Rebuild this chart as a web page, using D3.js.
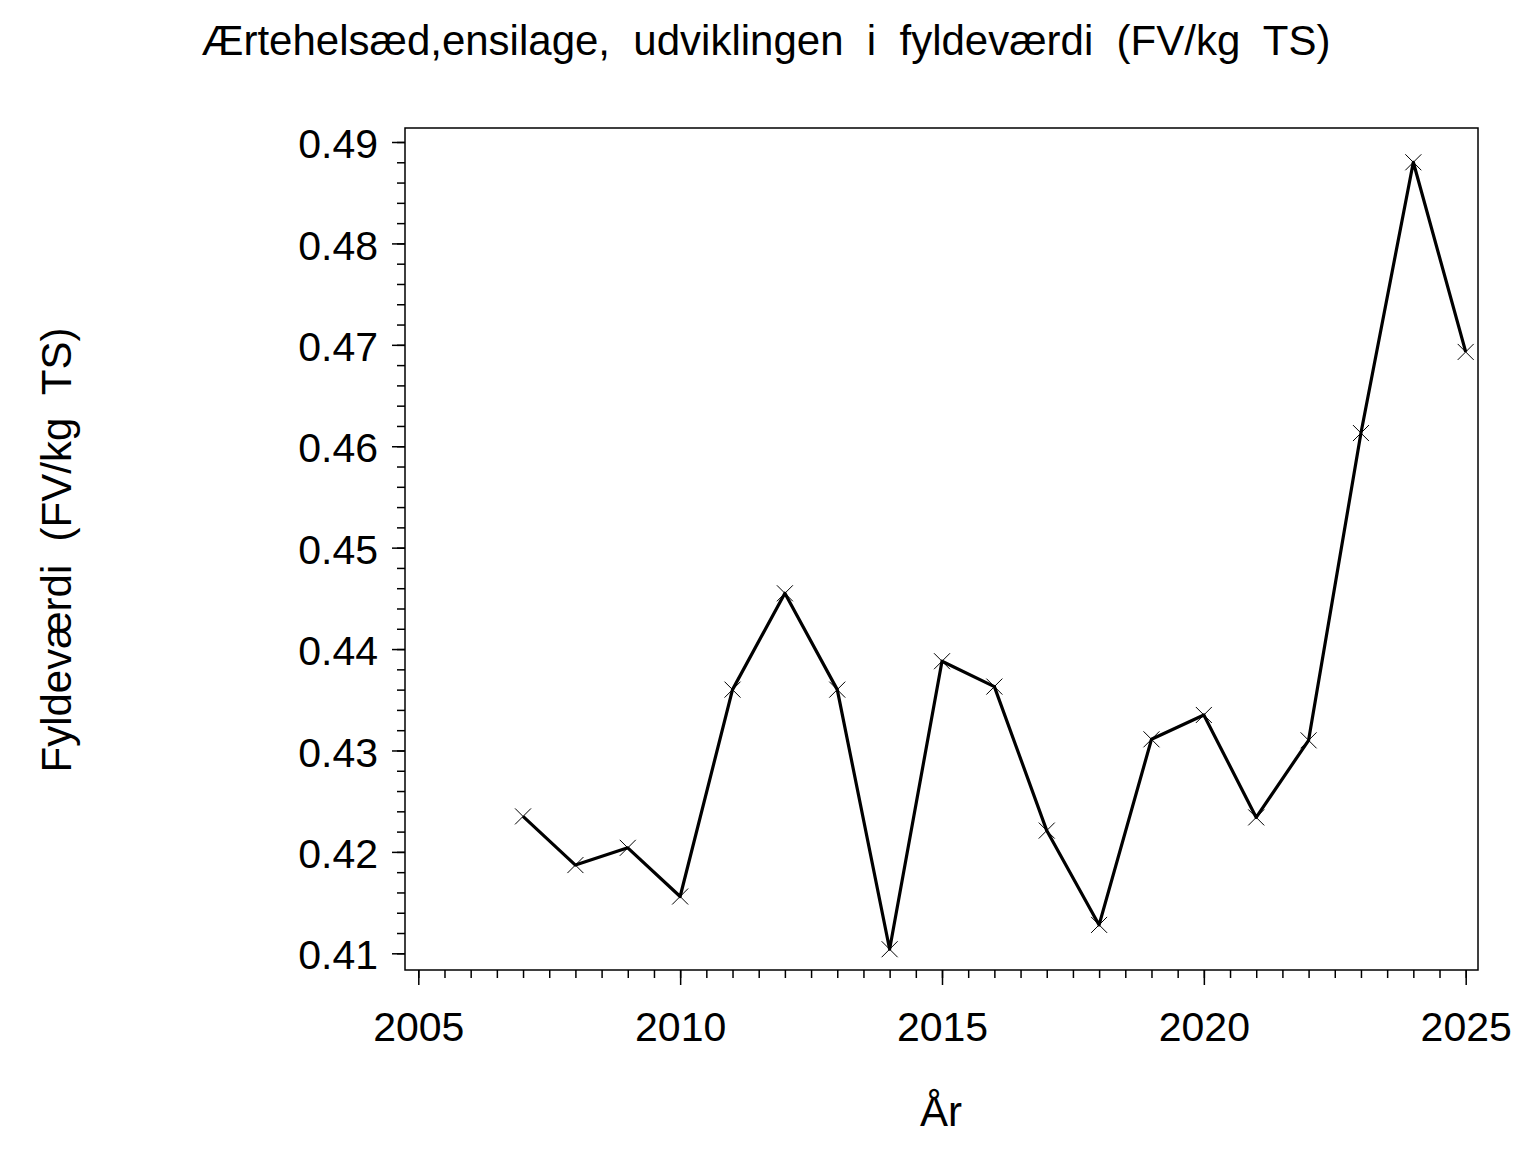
<!DOCTYPE html>
<html>
<head>
<meta charset="utf-8">
<script src="https://cdn.jsdelivr.net/npm/d3@7"></script>
<style>
  html, body { margin: 0; padding: 0; background: #fff; }
  svg { display: block; }
  text { font-family: "Liberation Sans", Arial, sans-serif; fill: #000; }
</style>
</head>
<body>
<script>
const years = [2007, 2008, 2009, 2010, 2011, 2012, 2013, 2014, 2015, 2016, 2017, 2018, 2019, 2020, 2021, 2022, 2023, 2024, 2025];
const values = [0.4235, 0.4187, 0.4204, 0.4156, 0.4360, 0.4455, 0.4360, 0.4104, 0.4388, 0.4363, 0.4221, 0.4128, 0.4311, 0.4335, 0.4234, 0.4310, 0.4613, 0.4880, 0.4693];
const xTicks = [2005, 2010, 2015, 2020, 2025];
const yTicks = [0.41, 0.42, 0.43, 0.44, 0.45, 0.46, 0.47, 0.48, 0.49];
const titleText = "Ærtehelsæd,ensilage,  udviklingen  i  fyldeværdi  (FV/kg  TS)";
const xLabel = "År";
const yLabel = "Fyldeværdi  (FV/kg  TS)";

const W = 1536, H = 1152;
const frame = { left: 405, right: 1478, top: 128, bottom: 970 };

const svg = d3.select("body").append("svg").attr("width", W).attr("height", H);

const x = d3.scaleLinear().domain([2005, 2025]).range([418.3, 1465.7]);
const y = d3.scaleLinear().domain([0.41, 0.49]).range([953.3, 142]);

// frame
svg.append("rect")
  .attr("x", frame.left).attr("y", frame.top)
  .attr("width", frame.right - frame.left).attr("height", frame.bottom - frame.top)
  .attr("fill", "none").attr("stroke", "#000").attr("stroke-width", 1.5);

// y axis
const yMinor = d3.range(0.41, 0.4901, 0.002);
const yAxisG = svg.append("g").attr("transform", `translate(${frame.left},0)`);
yAxisG.append("g")
  .call(d3.axisLeft(y).tickValues(yMinor).tickSize(8).tickFormat(""))
  .call(g => g.select(".domain").remove())
  .selectAll("line").attr("stroke-width", 1.5);
yAxisG.append("g")
  .call(d3.axisLeft(y).tickValues(yTicks).tickSize(13).tickPadding(14).tickFormat(d3.format(".2f")))
  .call(g => g.select(".domain").remove())
  .call(g => g.selectAll("line").attr("stroke-width", 1.5))
  .call(g => g.selectAll("text").attr("font-size", 41).attr("font-family", "'Liberation Sans', Arial, sans-serif").attr("dy", "0.38em"));

// x axis
const xMinor = d3.range(2005, 2025.01, 0.5);
const xAxisG = svg.append("g").attr("transform", `translate(0,${frame.bottom})`);
xAxisG.append("g")
  .call(d3.axisBottom(x).tickValues(xMinor).tickSize(8).tickFormat(""))
  .call(g => g.select(".domain").remove())
  .selectAll("line").attr("stroke-width", 1.5);
xAxisG.append("g")
  .call(d3.axisBottom(x).tickValues(xTicks).tickSize(15).tickPadding(27).tickFormat(d3.format("d")))
  .call(g => g.select(".domain").remove())
  .call(g => g.selectAll("line").attr("stroke-width", 1.5))
  .call(g => g.selectAll("text").attr("font-size", 41).attr("font-family", "'Liberation Sans', Arial, sans-serif"));

// line
const line = d3.line().x((d, i) => x(years[i])).y(d => y(d));
svg.append("path")
  .datum(values)
  .attr("fill", "none").attr("stroke", "#000").attr("stroke-width", 3.2)
  .attr("stroke-linejoin", "round")
  .attr("d", line);

// markers
const s = 8;
svg.append("g").selectAll("path.mk")
  .data(values)
  .join("path")
  .attr("class", "mk")
  .attr("d", (d, i) => {
    const cx = x(years[i]), cy = y(d);
    return `M${cx - s},${cy - s}L${cx + s},${cy + s}M${cx - s},${cy + s}L${cx + s},${cy - s}`;
  })
  .attr("stroke", "#000").attr("stroke-width", 1).attr("fill", "none");

// title
svg.append("text")
  .attr("x", 766).attr("y", 55)
  .attr("text-anchor", "middle")
  .attr("font-size", 42)
  .style("white-space", "pre")
  .text(titleText);

// x label
svg.append("text")
  .attr("x", 941).attr("y", 1126)
  .attr("text-anchor", "middle")
  .attr("font-size", 42)
  .text(xLabel);

// y label
svg.append("text")
  .attr("transform", `translate(71,550) rotate(-90)`)
  .attr("text-anchor", "middle")
  .attr("font-size", 42)
  .style("white-space", "pre")
  .text(yLabel);
</script>
</body>
</html>
